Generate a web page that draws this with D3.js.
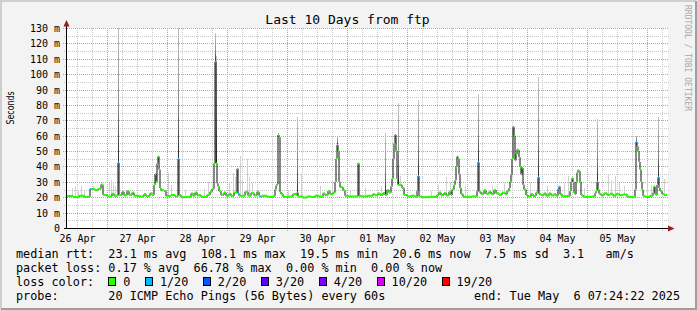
<!DOCTYPE html>
<html>
<head>
<meta charset="utf-8">
<script src="https://cdn.jsdelivr.net/npm/d3@7"></script>
<style>
    html, body { margin: 0; padding: 0; background: #f3f3f3; }
    svg { display: block; }
    text { font-family: "DejaVu Sans Mono", monospace; fill: #000; }
    .legend text { white-space: pre; }
</style>
</head>
<body>
<svg id="graph" width="697" height="310"></svg>
<script>

// window of the graph: 10 days, one rrd step is 24 minutes
var startTime = "2025-04-26 08:00";
var stepMinutes = 24;
var stepCount = 600;

var yTicks = [0, 10, 20, 30, 40, 50, 60, 70, 80, 90, 100, 110, 120, 130];

// median rtt in ms, [step, value] where the value changes
var medianRtt = [
    [0,20.8],[6,20.2],[12,21.0],[17,20.3],[23,25.3],[28,24.6],[31,25.5],[34,28.2],[36,21.5],[40,20.5],
    [45,22.3],[47,21.0],[51,42.5],[52,21.5],[55,23.5],[57,21.2],[60,24.0],[62,21.5],[65,23.0],[67,21.0],
    [72,20.5],[77,22.0],[79,20.8],[83,22.5],[85,21.5],[87,28.0],[88,35.0],[89,30.0],[90,42.0],[91,46.5],
    [92,38.0],[93,26.0],[94,24.5],[97,24.0],[99,20.8],[104,21.5],[108,20.5],[111,45.0],[112,21.5],[114,20.0],
    [120,20.3],[124,22.5],[126,21.0],[128,23.0],[130,21.3],[134,20.3],[140,21.5],[143,23.5],[145,25.5],[147,42.0],
    [148,108.1],[149,42.0],[150,29.0],[151,27.0],[152,24.0],[154,21.5],[157,23.0],[159,21.0],[162,22.3],[164,20.8],
    [167,23.0],[170,38.5],[171,22.5],[172,21.0],[178,23.5],[181,21.0],[184,22.8],[187,21.2],[190,23.5],[192,21.0],
    [193,20.5],[195,21.0],[200,20.3],[206,20.8],[208,25.0],[209,27.5],[210,28.5],[211,60.4],[212,59.0],[213,23.5],
    [214,22.0],[216,20.3],[223,20.5],[226,22.0],[229,21.5],[230,23.0],[231,20.5],[236,19.8],[240,20.5],[244,20.2],
    [248,21.0],[252,20.4],[256,22.5],[258,21.3],[261,24.0],[263,22.0],[266,23.0],[268,30.0],[269,45.0],[270,54.0],
    [271,50.0],[272,30.0],[273,26.5],[276,24.5],[278,21.0],[281,20.5],[291,42.0],[292,21.0],[294,20.5],[300,21.0],
    [306,22.0],[308,21.3],[311,22.5],[313,21.5],[316,22.8],[318,21.5],[320,24.7],[322,23.0],[324,27.0],[325,32.0],
    [326,45.0],[327,55.0],[328,60.5],[329,50.0],[330,32.0],[331,28.0],[335,26.0],[337,21.5],[340,20.5],[344,21.0],
    [348,20.3],[350,24.0],[351,33.8],[352,20.5],[355,20.0],[362,20.3],[370,21.5],[372,23.0],[374,21.3],[377,22.8],
    [379,21.2],[382,23.5],[384,21.5],[385,25.0],[387,28.0],[388,31.0],[389,40.0],[390,46.4],[391,45.0],[392,35.0],
    [393,26.0],[394,22.0],[396,20.3],[405,20.5],[410,24.0],[411,42.7],[412,23.5],[414,22.0],[417,24.5],[419,22.3],
    [422,23.5],[424,22.0],[427,24.7],[429,22.5],[432,21.5],[435,23.0],[438,22.0],[440,24.0],[442,26.0],[443,30.0],
    [444,34.4],[445,45.0],[446,65.8],[447,60.0],[448,44.0],[449,48.0],[450,51.0],[451,50.7],[452,46.0],[453,39.8],
    [454,35.0],[455,39.0],[456,28.0],[457,25.0],[459,21.5],[461,20.5],[464,22.0],[466,20.8],[469,23.0],[471,33.0],
    [472,22.0],[474,21.3],[477,22.5],[479,21.0],[482,22.5],[484,21.2],[487,22.0],[489,21.0],[491,25.3],[492,27.0],
    [493,22.0],[495,20.5],[499,20.8],[503,24.0],[504,30.0],[505,32.3],[506,30.0],[507,23.0],[508,22.0],[509,30.0],
    [510,36.0],[511,37.7],[512,37.0],[513,30.0],[514,21.5],[516,20.3],[525,20.5],[528,22.5],[529,24.0],[530,30.0],
    [531,25.0],[532,22.3],[534,21.2],[537,22.5],[540,21.5],[543,22.3],[546,21.0],[549,22.0],[552,21.3],[556,21.8],
    [560,20.3],[568,25.0],[569,56.0],[570,53.0],[571,50.0],[572,43.0],[573,38.0],[574,30.0],[575,25.0],[576,21.0],
    [578,20.3],[583,21.0],[586,23.0],[587,27.0],[588,22.0],[589,21.5],[590,28.0],[591,33.0],[592,26.0],[593,24.0],
    [595,22.0],[597,21.5]
];

// steps that lost 1 of 20 pings
var lossSteps = [23, 51, 111, 148, 171, 193, 230, 270, 328, 351, 411, 444, 471, 491, 530, 569, 591];

// smoke: highest ping of the step, [step, ms]
var smokeTall = [
    [51,135],[111,135],[148,126.5],[149,112],[211,62],[230,72],[270,60],[318,61.5],
    [331,81],[351,83],[411,87],[471,98],[530,71],[569,60],[591,72]
];
var smokeLight = [
    [5,26],[8,27],[11,25],[14,27],[17,24],[26,27],[42,29],[44,31],[46,30],[48,27],
    [101,36],[104,28],[118,25],[137,26],[141,30],[162,30],[166,36],[168,33],[173,47],[175,31],
    [180,45],[182,33],[185,29],[221,25],[234,35],[253,27],[265,31],[283,25],[298,26],[314,27],
    [333,34],[364,24],[371,28],[379,33],[383,30],[398,27],[425,28],[437,29],[463,30],[480,27],
    [497,29],[501,34],[517,26],[541,35],[544,31],[548,34],[552,29],[557,27],[580,40],[584,28],[597,32]
];

var lossLabels = ["0", "1/20", "2/20", "3/20", "4/20", "10/20", "19/20"];
var lossColors = ["#26ff00", "#00b8ff", "#0059ff", "#5e00ff", "#7e00ff", "#dd00ff", "#ff0000"];

var statLines = [
    "median rtt:  23.1 ms avg  108.1 ms max  19.5 ms min  20.6 ms now  7.5 ms sd  3.1   am/s",
    "packet loss: 0.17 % avg  66.78 % max  0.00 % min  0.00 % now"
];
var probeText = "probe:       20 ICMP Echo Pings (56 Bytes) every 60s";
var endText = "end: Tue May  6 07:24:22 2025";
var titleText = "Last 10 Days from ftp";


var chart = {

    svg: null,
    x: null,
    y: null,

    index: function () {
        chart.svg = d3.select("#graph");
        var t0 = d3.utcParse("%Y-%m-%d %H:%M")(startTime);
        chart.t0 = t0;

        chart.x = d3.scaleUtc()
            .domain([t0, chart.stepTime(stepCount)])
            .range([67, 667]);
        chart.y = d3.scaleLinear()
            .domain([0, 130])
            .range([228, 28]);

        chart.drawFrame();
        chart.drawGrid();
        chart.drawSmoke();
        chart.drawMedian();
        chart.drawAxes();
        chart.drawLegend();
    },

    stepTime: function (s) {
        return d3.utcMinute.offset(chart.t0, s * stepMinutes);
    },

    crisp: function (v) {
        return Math.round(v) + 0.5;
    },

    drawFrame: function () {
        var svg = chart.svg;
        svg.append("rect").attr("width", 697).attr("height", 310).attr("fill", "#f3f3f3");
        svg.append("path").attr("d", "M1,309V1H696").attr("fill", "none")
            .attr("stroke", "#cfcfcf").attr("stroke-width", 2);
        svg.append("path").attr("d", "M1,309H696V1").attr("fill", "none")
            .attr("stroke", "#9e9e9e").attr("stroke-width", 2);
        svg.append("rect").attr("x", 67).attr("y", 28).attr("width", 601).attr("height", 200)
            .attr("fill", "#fff");

        svg.append("text")
            .attr("x", 347.5).attr("y", 24)
            .attr("text-anchor", "middle")
            .style("font-size", "13px")
            .text(titleText);

        svg.append("text")
            .attr("transform", "translate(685,5) rotate(90)")
            .style("font-size", "8px")
            .style("fill", "#a8a8a8")
            .text("RRDTOOL / TOBI OETIKER");

        // y axis title
        svg.append("text")
            .attr("transform", "translate(14,108) rotate(-90)")
            .attr("text-anchor", "middle")
            .attr("textLength", 33)
            .attr("lengthAdjust", "spacingAndGlyphs")
            .style("font-family", "'DejaVu Sans Condensed', 'DejaVu Sans', sans-serif")
            .style("font-stretch", "condensed")
            .style("font-size", "10.5px")
            .text("Seconds");
    },

    drawGrid: function () {
        var x = chart.x, y = chart.y;
        var g = chart.svg.append("g").attr("class", "grid").attr("shape-rendering", "crispEdges");

        var minorX = x.ticks(d3.utcHour.every(6)).filter(function (d) { return d.getUTCHours() !== 0; });
        var majorX = x.ticks(d3.utcDay.every(1));
        var minorY = d3.range(5, 131, 10);

        g.selectAll(".vminor").data(minorX).enter().append("line")
            .attr("x1", function (d) { return chart.crisp(x(d)); })
            .attr("x2", function (d) { return chart.crisp(x(d)); })
            .attr("y1", 28).attr("y2", 231)
            .attr("stroke", "#c8c8c8").attr("stroke-dasharray", "1,1");
        g.selectAll(".hminor").data(minorY).enter().append("line")
            .attr("y1", function (d) { return chart.crisp(y(d)); })
            .attr("y2", function (d) { return chart.crisp(y(d)); })
            .attr("x1", 64).attr("x2", 669)
            .attr("stroke", "#c8c8c8").attr("stroke-dasharray", "1,1");

        g.selectAll(".vmajor").data(majorX).enter().append("line")
            .attr("x1", function (d) { return chart.crisp(x(d)); })
            .attr("x2", function (d) { return chart.crisp(x(d)); })
            .attr("y1", 28).attr("y2", 232)
            .attr("stroke", "#e49090").attr("stroke-dasharray", "1,1");
        g.selectAll(".hmajor").data(yTicks.slice(1)).enter().append("line")
            .attr("y1", function (d) { return chart.crisp(y(d)); })
            .attr("y2", function (d) { return chart.crisp(y(d)); })
            .attr("x1", 63).attr("x2", 669)
            .attr("stroke", "#e49090").attr("stroke-dasharray", "1,1");
    },

    medianAt: function (s) {
        var v = medianRtt[0][1];
        for (var i = 0; i < medianRtt.length; i++) {
            if (medianRtt[i][0] <= s) v = medianRtt[i][1];
        }
        return v;
    },

    drawSmoke: function () {
        var x = chart.x, y = chart.y;
        var defs = chart.svg.append("defs");
        defs.append("clipPath").attr("id", "plotclip")
            .append("rect").attr("x", 67).attr("y", 28).attr("width", 601).attr("height", 200);
        var grad = defs.append("linearGradient").attr("id", "smokegrad")
            .attr("x1", 0).attr("y1", 0).attr("x2", 0).attr("y2", 1);
        grad.append("stop").attr("offset", "0%").attr("stop-color", "#c4c4c4");
        grad.append("stop").attr("offset", "60%").attr("stop-color", "#8a8a8a");
        grad.append("stop").attr("offset", "100%").attr("stop-color", "#2a2a2a");

        var g = chart.svg.append("g").attr("clip-path", "url(#plotclip)").attr("shape-rendering", "crispEdges");

        g.selectAll(".light").data(smokeLight).enter().append("rect")
            .attr("x", function (d) { return x(chart.stepTime(d[0])); })
            .attr("width", function (d) { return x(chart.stepTime(d[0] + 1)) - x(chart.stepTime(d[0])); })
            .attr("y", function (d) { return y(d[1]); })
            .attr("height", function (d) { return y(chart.medianAt(d[0])) - y(d[1]); })
            .attr("fill", "#cfcfcf");

        g.selectAll(".tall").data(smokeTall).enter().append("rect")
            .attr("x", function (d) { return x(chart.stepTime(d[0])); })
            .attr("width", function (d) { return x(chart.stepTime(d[0] + 1)) - x(chart.stepTime(d[0])); })
            .attr("y", function (d) { return y(d[1]); })
            .attr("height", function (d) { return y(chart.medianAt(d[0])) - y(d[1]); })
            .attr("fill", "url(#smokegrad)");
    },

    drawMedian: function () {
        var x = chart.x, y = chart.y;
        var pts = medianRtt.concat([[stepCount, medianRtt[medianRtt.length - 1][1]]]);

        var line = d3.line()
            .curve(d3.curveStepAfter)
            .x(function (d) { return x(chart.stepTime(d[0])); })
            .y(function (d) { return y(d[1]); });

        var g = chart.svg.append("g").attr("clip-path", "url(#plotclip)");
        g.append("path")
            .attr("d", line(pts))
            .attr("fill", "none")
            .attr("stroke", "#111")
            .attr("stroke-width", 1);

        // colour each run by loss; a lossy step only colours its own step
        var runs = [];
        for (var i = 0; i < medianRtt.length; i++) {
            var s = medianRtt[i][0];
            var end = i + 1 < medianRtt.length ? medianRtt[i + 1][0] : stepCount;
            var v = medianRtt[i][1];
            if (lossSteps.indexOf(s) >= 0) {
                runs.push({ s: s, e: s + 1, v: v, loss: 1 });
                if (end > s + 1) runs.push({ s: s + 1, e: end, v: v, loss: 0 });
            } else {
                runs.push({ s: s, e: end, v: v, loss: 0 });
            }
        }
        g.selectAll(".run").data(runs).enter().append("line")
            .attr("x1", function (d) { return x(chart.stepTime(d.s)); })
            .attr("x2", function (d) { return x(chart.stepTime(d.e)); })
            .attr("y1", function (d) { return y(d.v); })
            .attr("y2", function (d) { return y(d.v); })
            .attr("stroke", function (d) { return lossColors[d.loss]; })
            .attr("stroke-width", 2);
    },

    drawAxes: function () {
        var x = chart.x, y = chart.y, svg = chart.svg;

        svg.append("g").selectAll("text").data(yTicks).enter().append("text")
            .attr("x", 60)
            .attr("y", function (d) { return chart.crisp(y(d)); })
            .attr("dy", "0.36em")
            .attr("text-anchor", "end")
            .style("font-size", "10px")
            .text(function (d) { return d === 0 ? "0" : d + " m"; });

        var noon = x.ticks(d3.utcDay.every(1)).map(function (d) { return d3.utcHour.offset(d, -12); });
        var fmt = d3.utcFormat("%d %b");
        svg.append("g").selectAll("text").data(noon).enter().append("text")
            .attr("x", function (d) { return x(d) + 0.5; })
            .attr("y", 241.5)
            .attr("text-anchor", "middle")
            .style("font-size", "10px")
            .text(function (d) { return fmt(d); });

        svg.append("line").attr("x1", 66.5).attr("x2", 66.5).attr("y1", 229).attr("y2", 24)
            .attr("stroke", "#000");
        svg.append("line").attr("x1", 64).attr("x2", 670).attr("y1", 228.5).attr("y2", 228.5)
            .attr("stroke", "#000");
        svg.append("path").attr("d", "M63.5,26.5L66.5,20L69.5,26.5Z").attr("fill", "#9b1c1c");
        svg.append("path").attr("d", "M668,225.5L674.5,228.5L668,231.5Z").attr("fill", "#9b1c1c");
    },

    drawLegend: function () {
        var svg = chart.svg;
        var g = svg.append("g").attr("class", "legend").style("font-size", "11.8px");

        g.selectAll(".stat").data(statLines).enter().append("text")
            .attr("xml:space", "preserve")
            .attr("x", 16)
            .attr("y", function (d, i) { return 258 + i * 14; })
            .text(function (d) { return d; });

        g.append("text").attr("x", 16).attr("y", 286).text("loss color:");

        var bx = 108.3;
        for (var i = 0; i < lossLabels.length; i++) {
            g.append("rect")
                .attr("x", Math.round(bx) + 0.5).attr("y", 277.5)
                .attr("width", 7).attr("height", 8)
                .attr("fill", lossColors[i]).attr("stroke", "#000");
            var t = g.append("text").attr("x", bx + 15).attr("y", 286).text(lossLabels[i]);
            bx = bx + 15 + t.node().getComputedTextLength() + 14.5;
        }

        g.append("text").attr("xml:space", "preserve").attr("x", 16).attr("y", 300).text(probeText);
        g.append("text").attr("xml:space", "preserve").attr("x", 680).attr("y", 300)
            .attr("text-anchor", "end").text(endText);
    }
};

chart.index();

</script>
</body>
</html>
